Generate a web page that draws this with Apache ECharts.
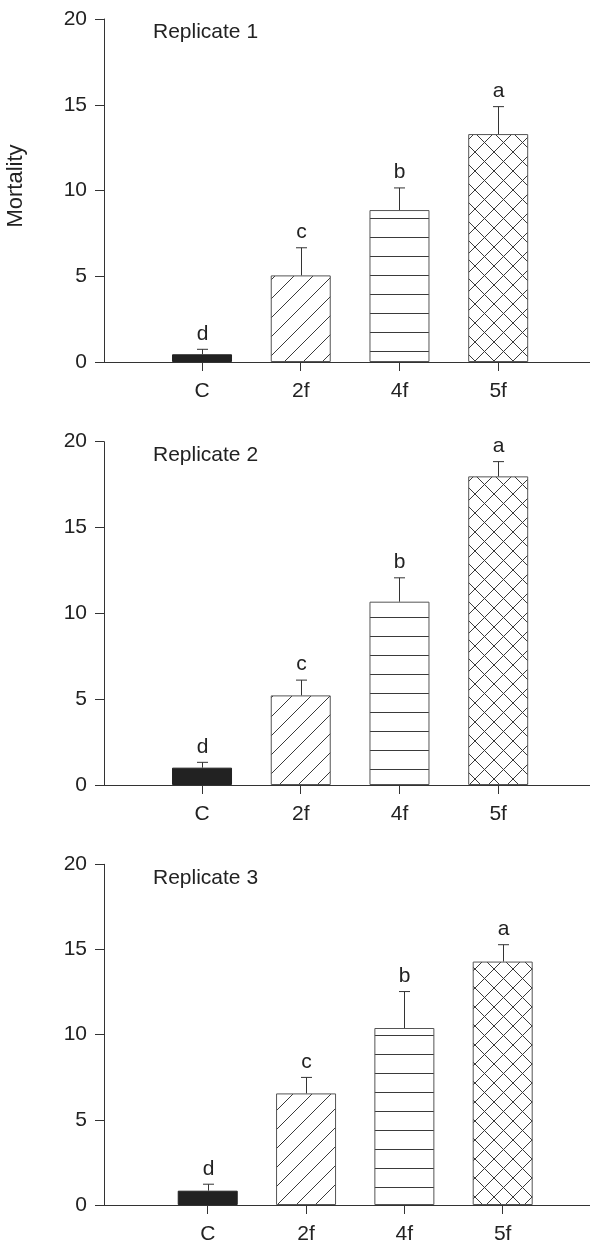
<!DOCTYPE html>
<html>
<head>
  <meta charset="utf-8">
  <title></title>
  <style>
    html, body { margin: 0; padding: 0; background: #fff; }
  </style>
</head>
<body>
  <div id="main" style="width: 590px;height:1245px;"></div>
</body>
<script src="https://cdn.jsdelivr.net/npm/echarts@6/dist/echarts.min.js"></script>
<script>
  // treatments on the x axis, plotted at positions 1..4
  let categories = ['C', '2f', '4f', '5f'];
  let letters = ['d', 'c', 'b', 'a'];
  let titles = ['Replicate 1', 'Replicate 2', 'Replicate 3'];

  // mean mortality and the upper error (SE) for each replicate
  let rep1 = [0.45, 5.05, 8.86, 13.29];
  let rep1Err = [0.29, 1.61, 1.29, 1.6];
  let rep2 = [1.01, 5.22, 10.68, 17.98];
  let rep2Err = [0.31, 0.89, 1.39, 0.86];
  let rep3 = [0.84, 6.55, 10.39, 14.29];
  let rep3Err = [0.38, 0.94, 2.14, 0.99];

  let yTicks = [0, 5, 10, 15, 20];

  const FONT = '"Liberation Sans", Arial, sans-serif';
  const FS = 21;
  const INK = '#222';

  // hatch tiles
  function tile(draw) {
    let c = document.createElement('canvas');
    c.width = 19; c.height = 19;
    let g = c.getContext('2d');
    g.fillStyle = '#fff';
    g.fillRect(0, 0, 19, 19);
    g.strokeStyle = '#3a3a3a';
    g.lineWidth = 1;
    draw(g);
    return c;
  }
  let slash = tile(g => {
    g.beginPath();
    g.moveTo(-1, 20); g.lineTo(20, -1);
    g.moveTo(-1, 1); g.lineTo(1, -1);
    g.moveTo(18, 20); g.lineTo(20, 18);
    g.stroke();
  });
  let lines = tile(g => {
    g.beginPath();
    g.moveTo(0, 9.5); g.lineTo(19, 9.5);
    g.stroke();
  });
  let cross = tile(g => {
    g.beginPath();
    g.moveTo(-1, 20); g.lineTo(20, -1);
    g.moveTo(-1, 1); g.lineTo(1, -1);
    g.moveTo(18, 20); g.lineTo(20, 18);
    g.moveTo(-1, -1); g.lineTo(20, 20);
    g.moveTo(-1, 18); g.lineTo(1, 20);
    g.moveTo(18, -1); g.lineTo(20, 1);
    g.stroke();
  });
  let fills = [INK, { image: slash, repeat: 'repeat' }, { image: lines, repeat: 'repeat' }, { image: cross, repeat: 'repeat' }];

  let panels = [
    { means: rep1, errs: rep1Err, top: 19, height: 343, xMin: 0.007, xMax: 4.93 },
    { means: rep2, errs: rep2Err, top: 441.7, height: 343.3, xMin: 0.007, xMax: 4.93 },
    { means: rep3, errs: rep3Err, top: 864.3, height: 343.4, xMin: -0.055, xMax: 4.888 }
  ];

  let grids = [], xAxes = [], yAxes = [], series = [], title = [];

  panels.forEach((p, i) => {
    grids.push({ left: 104, top: p.top, width: 486, height: p.height });
    xAxes.push({
      type: 'value', gridIndex: i, min: p.xMin, max: p.xMax,
      splitLine: { show: false },
      axisLine: { onZero: false, lineStyle: { color: '#333', width: 1 } },
      axisTick: { customValues: [1, 2, 3, 4], length: 9, lineStyle: { color: '#333' } },
      axisLabel: {
        customValues: [1, 2, 3, 4], margin: 19, fontSize: FS, fontFamily: FONT, color: INK,
        formatter: v => categories[Math.round(v) - 1] || ''
      }
    });
    yAxes.push({
      type: 'value', gridIndex: i, min: yTicks[0], max: yTicks[yTicks.length - 1], interval: 5,
      splitLine: { show: false },
      axisLine: { show: true, onZero: false, lineStyle: { color: '#333', width: 1 } },
      axisTick: { show: true, length: 9, lineStyle: { color: '#333' } },
      axisLabel: { margin: 17, fontSize: FS, fontFamily: FONT, color: INK }
    });
    title.push({
      text: titles[i], left: 153, top: p.top + 3, padding: 0,
      textStyle: { fontSize: FS, fontWeight: 'normal', fontFamily: FONT, color: INK }
    });
    series.push({
      type: 'bar', xAxisIndex: i, yAxisIndex: i, barWidth: 60,
      data: p.means.map((v, k) => ({
        value: [k + 1, v],
        itemStyle: { color: fills[k], borderColor: k === 0 ? INK : '#555', borderWidth: 1 }
      })),
      silent: true
    });
    series.push({
      type: 'custom', xAxisIndex: i, yAxisIndex: i, z: 5, silent: true,
      data: p.means.map((v, k) => [k + 1, v, p.errs[k]]),
      renderItem: function (params, api) {
        let x = api.value(0), m = api.value(1), e = api.value(2);
        let a = api.coord([x, m]);
        let b = api.coord([x, m + e]);
        let cx = Math.round(a[0]) + 0.5;
        return {
          type: 'group',
          children: [
            { type: 'line', shape: { x1: cx, y1: a[1], x2: cx, y2: b[1] }, style: { stroke: '#333', lineWidth: 1 } },
            { type: 'line', shape: { x1: cx - 5.5, y1: b[1], x2: cx + 5.5, y2: b[1] }, style: { stroke: '#333', lineWidth: 1 } },
            {
              type: 'text',
              style: {
                text: letters[params.dataIndex], x: cx, y: b[1] - 5,
                align: 'center', verticalAlign: 'bottom',
                fontSize: FS, fontFamily: FONT, fill: INK
              }
            }
          ]
        };
      }
    });
  });

  var myChart = echarts.init(document.getElementById('main'));

  option = {
    animation: false,
    backgroundColor: '#fff',
    title: title,
    grid: grids,
    xAxis: xAxes,
    yAxis: yAxes,
    graphic: [{
      type: 'text', x: 16, y: 186, rotation: Math.PI / 2,
      style: { text: 'Mortality', fontSize: 22, fontFamily: FONT, fill: INK, align: 'center', verticalAlign: 'middle' }
    }],
    series: series
  };

  myChart.setOption(option);
</script>
</html>
